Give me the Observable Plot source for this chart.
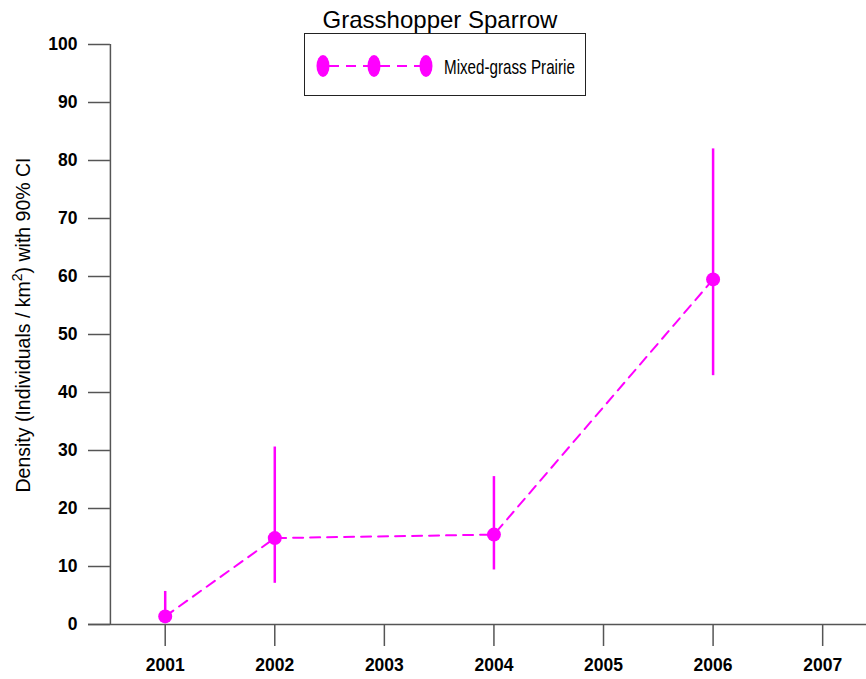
<!DOCTYPE html>
<html><head><meta charset="utf-8">
<script src="https://cdn.jsdelivr.net/npm/d3@7"></script>
<script src="https://cdn.jsdelivr.net/npm/@observablehq/plot@0.6"></script>
<style>
body{margin:0;background:#fff;font-family:"Liberation Sans",Arial,sans-serif}
#wrap{position:relative;width:866px;height:679px;overflow:hidden}
#title{position:absolute;left:240px;top:8px;width:400px;text-align:center;font-size:24px;line-height:24px;color:#000}
#ylab{position:absolute;left:-177px;top:315px;width:400px;height:20px;line-height:20px;font-size:19.5px;text-align:center;transform:rotate(-90deg);white-space:nowrap;color:#000}
#ylab sup{font-size:14px;line-height:0;vertical-align:8px}
#legend{position:absolute;left:304px;top:33px;width:280px;height:61px;border:1px solid #222;background:#fff}
</style>
</head><body><div id="wrap"></div>
<script>
const title = "Grasshopper Sparrow";
const seriesName = "Mixed-grass Prairie";
const years = [2001, 2002, 2004, 2006];
const density = [1.4, 14.9, 15.5, 59.5];
const ciLow = [0.4, 7.1, 9.4, 42.9];
const ciHigh = [5.7, 30.6, 25.5, 82.0];
const xTicks = [2001, 2002, 2003, 2004, 2005, 2006, 2007];
const yTicks = [0, 10, 20, 30, 40, 50, 60, 70, 80, 90, 100];

const color = "#ff00ff";
const data = years.map((y, i) => ({year: y, d: density[i], lo: ciLow[i], hi: ciHigh[i]}));
const xMin = 2000.3, xMax = 2007.4, yAxisX = 2000.5;

const plot = Plot.plot({
  width: 866, height: 679,
  marginLeft: 88, marginRight: 0, marginTop: 44, marginBottom: 55,
  x: {domain: [xMin, xMax], axis: null},
  y: {domain: [0, 100], axis: null},
  style: {fontFamily: "'Liberation Sans', Arial, sans-serif", background: "white", overflow: "visible"},
  marks: [
    Plot.ruleY([0], {x1: xMin, x2: xMax, stroke: "#555", strokeWidth: 1.5}),
    Plot.ruleX([yAxisX], {y1: 0, y2: 100, stroke: "#555", strokeWidth: 1.5}),
    Plot.ruleY(yTicks, {y: d => d, x1: xMin, x2: yAxisX, stroke: "#555", strokeWidth: 1.5}),
    Plot.text(yTicks, {x: xMin, y: d => d, text: d => String(d), dx: -11, textAnchor: "end", fontSize: 17.5, fontWeight: "bold", fill: "#000"}),
    Plot.axisX(xTicks, {label: null, tickSize: 22, tickPadding: 12, tickFormat: d => String(d), fontSize: 17.5, fontWeight: "bold", stroke: "#555", strokeWidth: 1.5, fill: "#000"}),
    Plot.lineY(data, {x: "year", y: "d", stroke: color, strokeWidth: 2, strokeDasharray: "10,7"}),
    Plot.ruleX(data, {x: "year", y1: "lo", y2: "hi", stroke: color, strokeWidth: 2.5}),
    Plot.dot(data, {x: "year", y: "d", r: 7, fill: color, stroke: "none"})
  ]
});

const wrap = document.getElementById("wrap");
wrap.appendChild(plot);

const t = document.createElement("div");
t.id = "title"; t.textContent = title; wrap.appendChild(t);

const yl = document.createElement("div");
yl.id = "ylab";
yl.innerHTML = "Density (Individuals / km<sup>2</sup>) with 90% CI";
wrap.appendChild(yl);

const lg = document.createElement("div");
lg.id = "legend";
lg.innerHTML = `<svg width="280" height="61" xmlns="http://www.w3.org/2000/svg">
  <line x1="18" y1="32" x2="121" y2="32" stroke="${color}" stroke-width="2" stroke-dasharray="10,7" stroke-dashoffset="-6"/>
  <ellipse cx="18" cy="32" rx="6.5" ry="11" fill="${color}"/>
  <ellipse cx="69" cy="32" rx="6.5" ry="11" fill="${color}"/>
  <ellipse cx="121" cy="32" rx="6.5" ry="11" fill="${color}"/>
  <text transform="translate(139,40) scale(0.76,1)" font-family="'Liberation Sans',Arial,sans-serif" font-size="20" fill="#000">${seriesName}</text>
</svg>`;
wrap.appendChild(lg);
</script>
</body></html>
